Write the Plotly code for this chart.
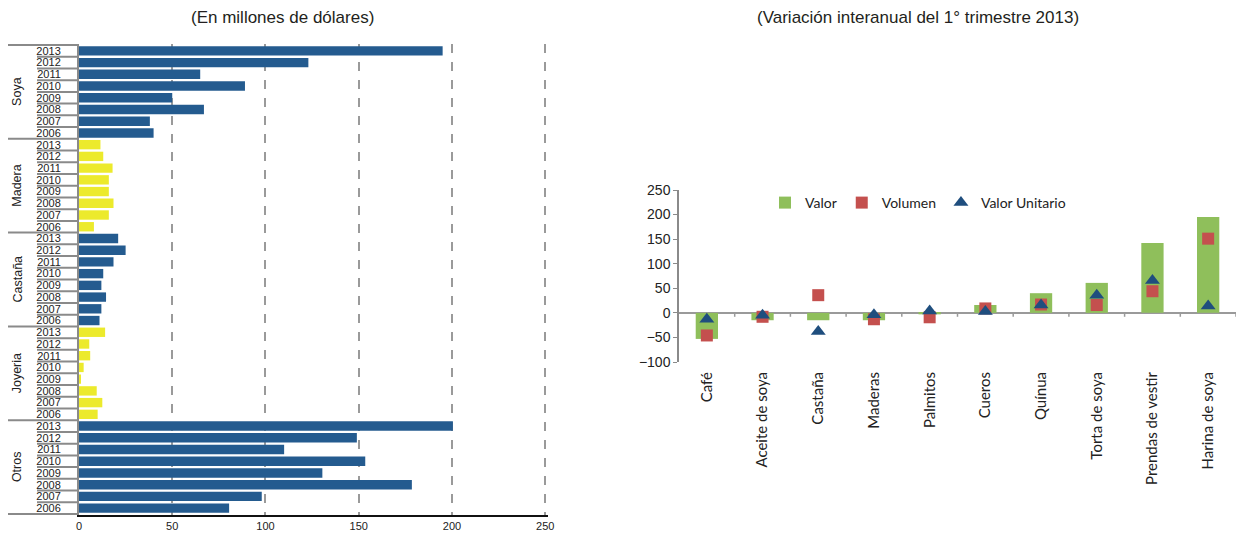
import plotly.graph_objects as go

# ---------------- data ----------------
years = ["2013", "2012", "2011", "2010", "2009", "2008", "2007", "2006"]
groups = ["Soya", "Madera", "Castaña", "Joyeria", "Otros"]
soya = [195, 123, 65, 89, 50, 67, 38, 40]
madera = [11.5, 13, 18, 16, 16, 18.5, 16, 8]
castana = [21, 25, 18.5, 13, 12, 14.5, 12, 11]
joyeria = [14, 5.5, 6, 2.5, 1, 9.5, 12.5, 10]
otros = [200.5, 149, 110, 153.5, 130.5, 178.5, 98, 80.5]
group_values = [soya, madera, castana, joyeria, otros]
group_colors = ["#245b8f", "#ecea2c", "#245b8f", "#ecea2c", "#245b8f"]

productos = ["Café", "Aceite de soya", "Castaña", "Maderas", "Palmitos", "Cueros",
             "Quínua", "Torta de soya", "Prendas de vestir", "Harina de soya"]
valor = [-53, -15, -15, -15, -3, 16, 40, 61, 142, 195]
volumen = [-46, -8, 36, -13, -9, 9, 17, 16, 44, 151]
valor_unitario = [-13, -5, -38, -4, 4, 3, 16, 36, 66, 14]

W, H = 1236, 535
fig = go.Figure()

# ---------------- left chart ----------------
cat_keys = []
for g in groups:
    for y in years:
        cat_keys.append(g + " " + y)

for gi, g in enumerate(groups):
    fig.add_trace(go.Bar(
        x=group_values[gi],
        y=[g + " " + y for y in years],
        orientation="h",
        marker=dict(color=group_colors[gi], line=dict(width=0)),
        showlegend=False,
        xaxis="x", yaxis="y",
        hoverinfo="x+y",
    ))

left_x0 = 79 / W
left_x1 = 548 / W
fig.update_layout(
    xaxis=dict(domain=[left_x0, left_x1], range=[0, 251.5], tickvals=[0, 50, 100, 150, 200, 250],
               showgrid=True, gridcolor="#9a9a9a", griddash="dash", gridwidth=2,
               showline=True, linecolor="#111", linewidth=2, zeroline=False,
               tickfont=dict(family="Liberation Sans, Arial", size=11, color="#222"),
               ticks="", anchor="y", automargin=False, fixedrange=True),
    yaxis=dict(domain=[(H - 515) / H, (H - 44) / H], type="category",
               categoryorder="array", categoryarray=cat_keys, autorange="reversed",
               tickvals=cat_keys, ticktext=years * len(groups),
               tickfont=dict(family="Liberation Sans, Arial", size=11, color="#222"),
               showline=True, linecolor="#8a8a8a", linewidth=2, ticks="",
               ticklabelstandoff=14,
               showgrid=False, anchor="x", automargin=False, fixedrange=True),
    bargap=0.2,
)

shapes = []
n = len(cat_keys)
for i in range(n + 1):
    pos = i - 0.5
    if i % len(years) == 0:
        xs = 8 / W
    else:
        xs = 37 / W
    shapes.append(dict(type="line", xref="paper", yref="y", x0=xs, x1=left_x0,
                       y0=pos, y1=pos, line=dict(color="#8a8a8a", width=2)))

annotations = []
for gi, g in enumerate(groups):
    mid = gi * len(years) + (len(years) - 1) / 2
    annotations.append(dict(text=g, xref="paper", yref="y", x=17 / W, y=mid,
                            textangle=-90, showarrow=False, xanchor="center", yanchor="middle",
                            font=dict(family="Liberation Sans, Arial", size=12.5, color="#222")))

# ---------------- right chart ----------------
fig.add_trace(go.Bar(
    x=productos, y=valor, name="Valor", marker=dict(color="#8fbf5b", line=dict(width=0)),
    width=0.4, xaxis="x2", yaxis="y2"))
fig.add_trace(go.Scatter(
    x=productos, y=volumen, name="Volumen", mode="markers",
    marker=dict(symbol="square", color="#c4504e", size=12), xaxis="x2", yaxis="y2"))
fig.add_trace(go.Scatter(
    x=productos, y=valor_unitario, name="Valor Unitario", mode="markers",
    marker=dict(symbol="triangle-up", color="#1f4e7e", size=13), xaxis="x2", yaxis="y2"))

fig.update_layout(
    xaxis2=dict(domain=[679 / W, 1.0], anchor="y2", type="category",
                range=[-0.5, len(productos) - 0.5],
                tickangle=-90, showline=False, ticks="", showgrid=False, zeroline=False,
                ticklabelstandoff=6,
                tickfont=dict(family="Lato, Open Sans", size=15, color="#222"),
                automargin=False, fixedrange=True),
    yaxis2=dict(domain=[(H - 362) / H, (H - 190) / H], anchor="x2", range=[-100, 250],
                tickvals=[-100, -50, 0, 50, 100, 150, 200, 250],
                showline=True, linecolor="#8a8a8a", linewidth=1.5, ticks="outside",
                ticklen=4, tickcolor="#8a8a8a", showgrid=False,
                zeroline=True, zerolinecolor="#9a9a9a", zerolinewidth=2,
                tickfont=dict(family="Liberation Sans, Arial", size=14, color="#222"),
                automargin=False, fixedrange=True),
)

for i in range(len(productos)):
    shapes.append(dict(type="line", xref="x2", yref="y2", x0=i + 0.5, x1=i + 0.5,
                       y0=0, y1=-8, line=dict(color="#9a9a9a", width=1.5)))

annotations.append(dict(text="(En millones de dólares)", xref="paper", yref="paper",
                        x=282 / W, y=(H - 18) / H, showarrow=False, xanchor="center", yanchor="middle",
                        font=dict(family="Liberation Sans, Arial", size=17, color="#231f20")))
annotations.append(dict(text="(Variación interanual del 1° trimestre 2013)", xref="paper", yref="paper",
                        x=918 / W, y=(H - 18) / H, showarrow=False, xanchor="center", yanchor="middle",
                        font=dict(family="Liberation Sans, Arial", size=17, color="#231f20")))

fig.update_layout(
    width=W, height=H,
    margin=dict(l=0, r=0, t=0, b=0),
    paper_bgcolor="white", plot_bgcolor="white",
    shapes=shapes, annotations=annotations,
    legend=dict(orientation="h", x=765 / W, y=(H - 203) / H, xanchor="left", yanchor="middle",
                bgcolor="rgba(0,0,0,0)", font=dict(family="Lato, Open Sans", size=14, color="#222"),
                itemwidth=30, tracegroupgap=0),
    barmode="overlay",
)

fig.write_html("out.html", config={"displayModeBar": False},
               post_script="document.body.style.margin='0';document.body.style.overflow='hidden';")
